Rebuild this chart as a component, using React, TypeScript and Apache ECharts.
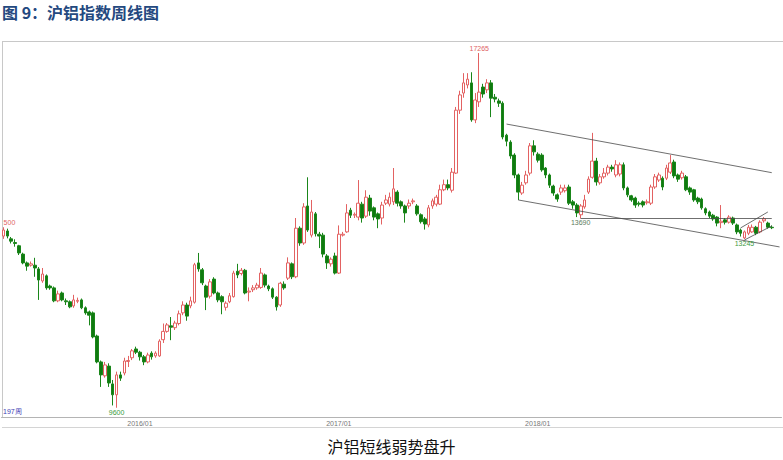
import { useEffect, useRef } from "react";
import * as echarts from "echarts";

// weekly bars of the SHFE aluminium index: [open, close, low, high]
const weeks2015 = [
  [13310, 13440, 13250, 13500], [13420, 13310, 13260, 13470], [13250, 13200, 13150, 13290],
  [13170, 13150, 13080, 13240], [13100, 12945, 12900, 13120], [12920, 12730, 12700, 12950],
  [12730, 12660, 12560, 12760], [12680, 12710, 12650, 12760], [12680, 12620, 12430, 12840],
  [12600, 12360, 11930, 12640], [12340, 12490, 12300, 12620], [12450, 12190, 12150, 12480],
  [12230, 12190, 12150, 12260], [12190, 11910, 11880, 12220], [11910, 12060, 11880, 12130],
  [12080, 11930, 11900, 12110], [11910, 11890, 11820, 11960], [11890, 11780, 11750, 11920],
  [11800, 11930, 11760, 12040], [11900, 11920, 11860, 11980], [11930, 11760, 11730, 11960],
  [11760, 11650, 11610, 11790], [11670, 11600, 11380, 11700], [11650, 11130, 11100, 11680],
  [11150, 10590, 10560, 11180], [10590, 10310, 10050, 10620], [10290, 10525, 10250, 10590],
  [10500, 10135, 10050, 10560], [10115, 9880, 9650, 10200], [9880, 10310, 9600, 10380],
  [10310, 10240, 10180, 10380], [10350, 10610, 10300, 10680], [10600, 10620, 10480, 10720],
  [10680, 10830, 10630, 10870], [10870, 10800, 10760, 10920],
];

const weeks2016 = [
  [10800, 10700, 10620, 10830], [10700, 10590, 10520, 10740], [10590, 10740, 10560, 10790],
  [10780, 10700, 10640, 10820], [10720, 10780, 10680, 10820], [10720, 11040, 10700, 11080],
  [11070, 11250, 11000, 11420], [11250, 11390, 11220, 11430], [11370, 11340, 11060, 11560],
  [11330, 11430, 11280, 11480], [11420, 11630, 11380, 11700], [11650, 11820, 11600, 11900],
  [11820, 11580, 11480, 11870], [11800, 11910, 11750, 12000], [11880, 12690, 11850, 12730],
  [12730, 12600, 12540, 12945], [12580, 12300, 12250, 12620], [12230, 11990, 11710, 12260],
  [12010, 12320, 11960, 12380], [12380, 12080, 12050, 12420], [12080, 11930, 11880, 12110],
  [12000, 11890, 11620, 12030], [11770, 11860, 11700, 11900], [11890, 12020, 11860, 12080],
  [12000, 12510, 11980, 12560], [12550, 12470, 12400, 12710], [12500, 12570, 12460, 12620],
  [12570, 12080, 12050, 12600], [12100, 12120, 11900, 12200], [12150, 12190, 12100, 12250],
  [12190, 12250, 12150, 12300], [12200, 12510, 12170, 12620], [12470, 12250, 12200, 12500],
  [12230, 12170, 12120, 12260], [12170, 11990, 11950, 12200], [11990, 11780, 11700, 12010],
  [11820, 12290, 11780, 12320], [12270, 12190, 12150, 12330], [12400, 12730, 12360, 12850],
  [12710, 12430, 12380, 12740], [12430, 13480, 12400, 13700], [13480, 13160, 13100, 13520],
  [13160, 13940, 13120, 14020], [13960, 13440, 13400, 14580], [13330, 13830, 13280, 14090],
  [13790, 13360, 13300, 13830], [13350, 13310, 13050, 13400], [13330, 12920, 12850, 13380],
  [12880, 12730, 12600, 12920], [12710, 12810, 12650, 12850], [12880, 12510, 12480, 12950],
];

const weeks2017 = [
  [12510, 13350, 12490, 13540], [13330, 13350, 13300, 13400], [13400, 13810, 13380, 14000],
  [13870, 13760, 13700, 13920], [13760, 13780, 13700, 13820], [13720, 14020, 13650, 14520],
  [14000, 13700, 13600, 14050], [13740, 14150, 13700, 14300], [14130, 13850, 13750, 14200],
  [13920, 13720, 13650, 13950], [13790, 13680, 13480, 13820], [13700, 13980, 13560, 14050],
  [14020, 14090, 13980, 14200], [14000, 14150, 13950, 14250], [14050, 14330, 13980, 14780],
  [14260, 14020, 13950, 14300], [14050, 13960, 13900, 14080], [13960, 13810, 13600, 13990],
  [13960, 14020, 13900, 14100], [14050, 14070, 14000, 14120], [13960, 13790, 13750, 14000],
  [13770, 13620, 13580, 13800], [13680, 13570, 13450, 13720], [13550, 13920, 13500, 13980],
  [13960, 14070, 13900, 14120], [14000, 14150, 13950, 14200], [14000, 14310, 13980, 14420],
  [14310, 14420, 14280, 14530], [14420, 14350, 14300, 14530], [14300, 14690, 14250, 14780],
  [14670, 16030, 14650, 16100], [16030, 16360, 15950, 16450], [16400, 16620, 16300, 16830],
  [16575, 16700, 16500, 16830], [16620, 15820, 15780, 16850], [15820, 16250, 15750, 16400],
  [16210, 16420, 16100, 17265], [16530, 16380, 16300, 16600], [16470, 16620, 16400, 16700],
  [16620, 16290, 15880, 16680], [16310, 16270, 16200, 16380], [16230, 16180, 16100, 16280],
  [16180, 15450, 15400, 16220], [15490, 15360, 15250, 15520], [15340, 15040, 14980, 15380],
  [15060, 14630, 14560, 15100], [14630, 14260, 14090, 14660], [14240, 14410, 14200, 14480],
  [14460, 14630, 14420, 14720], [14670, 15260, 14620, 15320], [15260, 15130, 15050, 15380],
];

const weeks2018 = [
  [15080, 14950, 14900, 15120], [15060, 14740, 14700, 15100], [14780, 14630, 14560, 14800],
  [14630, 14410, 14350, 14660], [14390, 14240, 14180, 14420], [14200, 14110, 14050, 14230],
  [14260, 14350, 14200, 14420], [14290, 14350, 14250, 14420], [14370, 14020, 13980, 14420],
  [14050, 13980, 13900, 14090], [13980, 13810, 13720, 14020], [13770, 13960, 13690, 14000],
  [13940, 14090, 13900, 14200], [14260, 14540, 14220, 14600], [14580, 14930, 14550, 15540],
  [14930, 14480, 14400, 15000], [14460, 14590, 14420, 14650], [14590, 14670, 14550, 14780],
  [14670, 14800, 14620, 14850], [14800, 14760, 14700, 14850], [14630, 14850, 14580, 14950],
  [14650, 14850, 14600, 14900], [14850, 14350, 14300, 14900], [14350, 14200, 14150, 14380],
  [14180, 14090, 14050, 14200], [14130, 13980, 13920, 14160], [14020, 14000, 13950, 14060],
  [14050, 13980, 13930, 14080], [14030, 14050, 13990, 14100], [14020, 14370, 13980, 14420],
  [14370, 14590, 14330, 14650], [14520, 14630, 14480, 14680], [14560, 14370, 14300, 14600],
  [14560, 14780, 14520, 14850], [14690, 14890, 14650, 15060], [14910, 14610, 14560, 14960],
  [14630, 14540, 14480, 14660], [14570, 14670, 14530, 14720], [14590, 14310, 14280, 14630],
  [14350, 14260, 14200, 14380], [14310, 14090, 14050, 14330], [14130, 14050, 14000, 14160],
  [14110, 13920, 13880, 14140], [13900, 13810, 13760, 13930], [13830, 13740, 13700, 13860],
  [13760, 13680, 13640, 13790], [13720, 13590, 13520, 13740], [13600, 13630, 13480, 13980],
  [13660, 13610, 13560, 13700], [13610, 13720, 13580, 13760], [13700, 13590, 13550, 13730],
  [13550, 13400, 13350, 13580], [13440, 13370, 13300, 13470], [13270, 13400, 13245, 13430],
  [13370, 13500, 13330, 13550], [13400, 13500, 13380, 13560], [13500, 13370, 13330, 13530],
  [13400, 13610, 13370, 13650], [13640, 13680, 13600, 13720], [13590, 13500, 13470, 13620],
  [13500, 13490, 13460, 13540],
];

// first week of each year on the category axis
const yearTicks: Record<number, string> = { 35: "2016/01", 86: "2017/01", 137: "2018/01" };

// trend lines: [[week, price], [week, price]]
const trendLines = [
  [[129, 15730], [197, 14680]],
  [[132, 14090], [199, 13075]],
  [[148, 13690], [197, 13690]],
  [[189, 13485], [196, 13830]],
  [[190, 13225], [197, 13528]],
];

// labelled highs and lows
const extremes = [
  { week: 0, price: 13500, text: "500", pos: "top", color: "#e06464" },
  { week: 122, price: 17265, text: "17265", pos: "top", color: "#e06464" },
  { week: 29, price: 9600, text: "9600", pos: "bottom", color: "#3d9a3d" },
  { week: 148, price: 13690, text: "13690", pos: "bottom", color: "#5d7a5d" },
  { week: 190, price: 13245, text: "13245", pos: "bottom", color: "#3d9a3d" },
];

const TOTAL_WEEKS = 200;

export default function App() {
  const chartRef = useRef(null);

  useEffect(() => {
    const chart = echarts.init(chartRef.current, null, { renderer: "svg" });
    const bars = [...weeks2015, ...weeks2016, ...weeks2017, ...weeks2018];
    const weekIds = Array.from({ length: TOTAL_WEEKS }, (_, i) => String(i));
    const small = "Liberation Sans";

    const options = {
      animation: false,
      grid: { left: 1.5, right: 1.5, top: 41, bottom: 43, show: false },
      xAxis: {
        type: "category",
        data: weekIds,
        boundaryGap: true,
        axisLine: { lineStyle: { color: "#b4b4b4", width: 1 } },
        axisTick: { show: false },
        splitLine: { show: false },
        axisLabel: {
          interval: (idx: number) => idx in yearTicks,
          formatter: (_v: string, idx: number) => yearTicks[idx] || "",
          fontSize: 7,
          color: "#777",
          fontFamily: small,
          margin: 3,
        },
      },
      yAxis: {
        type: "value",
        min: 9400,
        max: 17525,
        show: false,
        splitLine: { show: false },
      },
      series: [
        {
          type: "candlestick",
          data: bars,
          barWidth: 3.2,
          itemStyle: {
            color: "#ffffff",
            color0: "#0f7a0f",
            borderColor: "#e36262",
            borderColor0: "#1a861a",
            borderWidth: 1,
          },
          markLine: {
            silent: true,
            symbol: ["none", "none"],
            label: { show: false },
            lineStyle: { color: "#4a4a4a", width: 0.8, type: "solid" },
            data: trendLines.map(([a, b]) => [{ coord: a }, { coord: b }]),
          },
          markPoint: {
            silent: true,
            symbol: "circle",
            symbolSize: 0,
            data: extremes.map((e) => ({
              coord: [e.week, e.price],
              label: {
                show: true,
                position: e.pos,
                distance: 1,
                offset: e.week === 0 ? [6, 0] : [0, 0],
                formatter: e.text,
                fontSize: 7,
                color: e.color,
                fontFamily: small,
              },
            })),
          },
        },
      ],
      graphic: [
        {
          type: "text",
          left: 2,
          top: 4,
          style: {
            text: "图 9：沪铝指数周线图",
            fontSize: 16,
            fontWeight: "bold",
            fontFamily: "Noto Sans CJK SC",
            fill: "#24497f",
          },
        },
        {
          type: "line",
          shape: { x1: 2, y1: 41.5, x2: 783, y2: 41.5 },
          style: { stroke: "#c8c8c8", lineWidth: 1 },
        },
        {
          type: "line",
          shape: { x1: 2.5, y1: 41.5, x2: 2.5, y2: 417 },
          style: { stroke: "#c8c8c8", lineWidth: 1 },
        },
        {
          type: "line",
          shape: { x1: 2, y1: 427.5, x2: 783, y2: 427.5 },
          style: { stroke: "#d4d4d4", lineWidth: 1 },
        },
        {
          type: "text",
          left: 3,
          top: 408,
          style: { text: "197周", fontSize: 7, fontFamily: small, fill: "#3b3bb3" },
        },
        {
          type: "text",
          left: "center",
          top: 438,
          style: {
            text: "沪铝短线弱势盘升",
            fontSize: 16,
            fontFamily: "Noto Sans CJK SC",
            fill: "#111",
          },
        },
      ],
    };

    chart.setOption(options);

    return () => {
      chart.dispose();
    };
  }, []);

  return (
    <div
      ref={chartRef}
      style={{ position: "absolute", left: 0, top: 0, width: "783px", height: "460px" }}
    />
  );
}
